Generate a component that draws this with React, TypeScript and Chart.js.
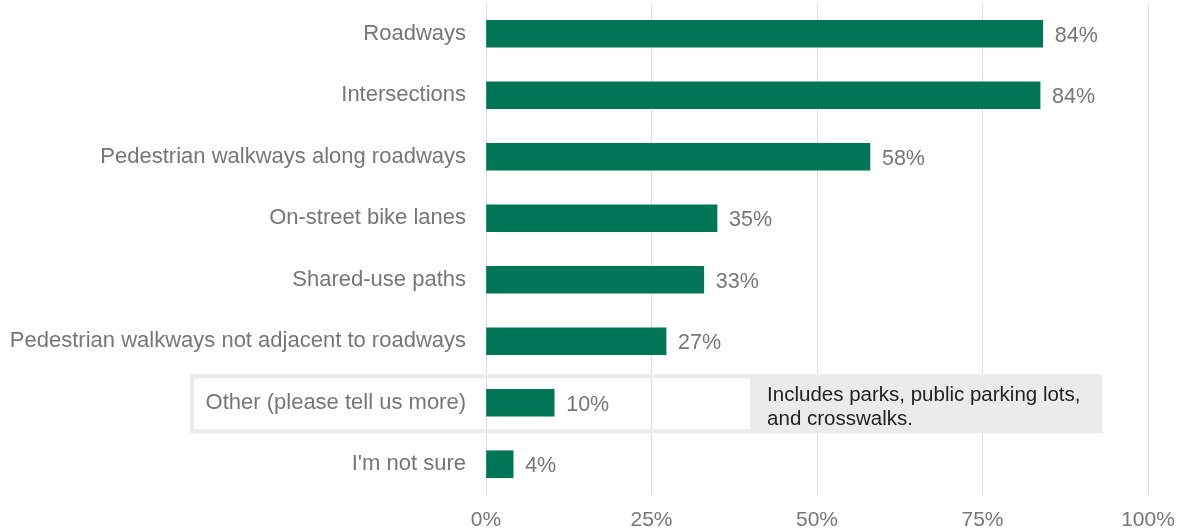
import React, { useEffect, useRef } from "react";
import { Chart, registerables } from "chart.js";

Chart.register(...registerables);

const categories = [
  "Roadways",
  "Intersections",
  "Pedestrian walkways along roadways",
  "On-street bike lanes",
  "Shared-use paths",
  "Pedestrian walkways not adjacent to roadways",
  "Other (please tell us more)",
  "I'm not sure",
];
const values = [84.1, 83.7, 58.0, 34.9, 32.9, 27.2, 10.3, 4.1];
const valueLabels = ["84%", "84%", "58%", "35%", "33%", "27%", "10%", "4%"];
const xTicks = [0, 25, 50, 75, 100];
const noteCategory = "Other (please tell us more)";
const noteLines = ["Includes parks, public parking lots,", "and crosswalks."];
const noteStartValue = 40.2;
const noteEndValue = 93.1;

const FONT = "'Liberation Sans', Arial, sans-serif";
const GRAY = "#767676";
const BAR = "#007656";

const annotationPlugin = {
  id: "noteBox",
  beforeDatasetsDraw(chart: any) {
    const { ctx, scales } = chart;
    const y = scales.y;
    const x = scales.x;
    const idx = categories.indexOf(noteCategory);
    const cy = y.getPixelForValue(idx);
    const top = cy - 28.5;
    const bottom = cy + 30.5;
    const left = 190;
    const right = x.getPixelForValue(noteStartValue);
    ctx.save();
    ctx.strokeStyle = "#ebebeb";
    ctx.lineWidth = 4;
    ctx.strokeRect(left + 2, top + 2, right - left - 2, bottom - top - 4);
    ctx.restore();
  },
  afterDatasetsDraw(chart: any) {
    const { ctx, scales } = chart;
    const y = scales.y;
    const x = scales.x;
    const idx = categories.indexOf(noteCategory);
    const cy = y.getPixelForValue(idx);
    const top = cy - 28.5;
    const bottom = cy + 30.5;
    const left = x.getPixelForValue(noteStartValue);
    const right = x.getPixelForValue(noteEndValue);
    ctx.save();
    ctx.fillStyle = "#ebebeb";
    ctx.fillRect(left, top, right - left, bottom - top);
    ctx.fillStyle = "#222222";
    ctx.font = `20.5px ${FONT}`;
    ctx.textBaseline = "middle";
    ctx.textAlign = "left";
    noteLines.forEach((line, i) => {
      ctx.fillText(line, left + 15, top + 21 + i * 24);
    });
    // value labels
    const meta = chart.getDatasetMeta(0);
    ctx.fillStyle = GRAY;
    ctx.font = `21.5px ${FONT}`;
    meta.data.forEach((bar: any, i: number) => {
      ctx.fillText(valueLabels[i], bar.x + 12, bar.y + 2);
    });
    ctx.restore();
  },
};

export default function App() {
  const ref = useRef<HTMLCanvasElement>(null);
  useEffect(() => {
    document.body.style.margin = "0";
    const chart = new Chart(ref.current!, {
      type: "bar",
      data: {
        labels: categories,
        datasets: [
          {
            data: values,
            backgroundColor: BAR,
            barThickness: 27,
          },
        ],
      },
      options: {
        indexAxis: "y",
        animation: false,
        responsive: false,
        maintainAspectRatio: false,
        layout: { padding: { top: 3, right: 34, left: 0, bottom: 0 } },
        plugins: { legend: { display: false }, tooltip: { enabled: false } },
        scales: {
          x: {
            min: 0,
            max: 100,
            afterBuildTicks: (s: any) => {
              s.ticks = xTicks.map((v) => ({ value: v }));
            },
            afterFit: (s: any) => {
              s.height = 36;
              s.paddingLeft = 0;
              s.paddingRight = 0;
            },
            grid: { color: "#dedede", drawTicks: false, lineWidth: 1 },
            border: { display: false },
            ticks: {
              padding: 13,
              color: GRAY,
              font: { family: FONT, size: 21 },
              callback: (v: any) => `${v}%`,
            },
          },
          y: {
            afterFit: (s: any) => {
              s.width = 486;
              s.paddingTop = 0;
              s.paddingBottom = 0;
            },
            grid: { display: false, drawTicks: false },
            border: { display: false },
            ticks: {
              padding: 20,
              color: GRAY,
              font: { family: FONT, size: 22 },
            },
          },
        },
      },
      plugins: [annotationPlugin],
    });
    return () => chart.destroy();
  }, []);
  return (
    <div style={{ width: 1182, height: 531 }}>
      <canvas ref={ref} width={1182} height={531} />
    </div>
  );
}
